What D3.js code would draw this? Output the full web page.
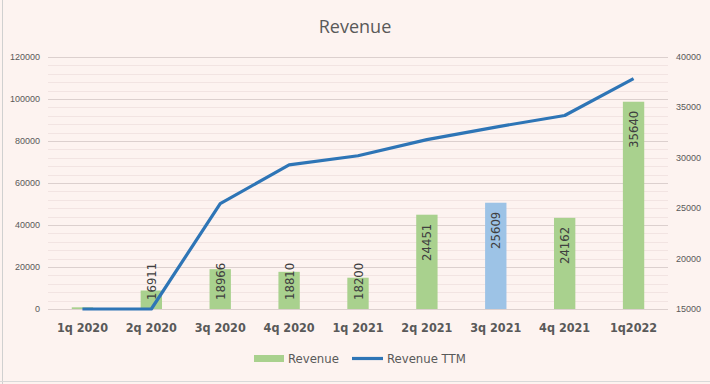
<!DOCTYPE html>
<html>
<head>
<meta charset="utf-8">
<script src="https://cdn.jsdelivr.net/npm/d3@7"></script>
<style>
  body { margin: 0; background: #fdf3f0; }
  svg { display: block; }
  .tick-label { font-family: "Liberation Sans", Arial, sans-serif; font-size: 9px; fill: #595959; }
  .cat-label { font-family: "DejaVu Sans Condensed", "Liberation Sans Narrow", sans-serif; font-size: 12.5px; font-weight: bold; fill: #595959; }
  .bar-label { font-family: "DejaVu Sans Condensed", "Liberation Sans Narrow", sans-serif; font-size: 13px; fill: #404040; }
  .legend-label { font-family: "DejaVu Sans Condensed", "Liberation Sans Narrow", sans-serif; font-size: 13px; fill: #595959; }
</style>
</head>
<body>
<svg id="chart" width="710" height="384"></svg>
<script>
const categories = ["1q 2020", "2q 2020", "3q 2020", "4q 2020", "1q 2021", "2q 2021", "3q 2021", "4q 2021", "1q2022"];
const barValues = [800, 8800, 18966, 17700, 14900, 44900, 50600, 43400, 98700];
const barLabels = ["", "16911", "18966", "18810", "18200", "24451", "25609", "24162", "35640"];
const ttmValues = [15000, 15000, 25450, 29300, 30200, 31800, 33050, 34200, 37850];
const leftTicks = [0, 20000, 40000, 60000, 80000, 100000, 120000];
const rightTicks = [15000, 20000, 25000, 30000, 35000, 40000];
const highlighted = "3q 2021";

const svg = d3.select("#chart");
const width = 710, height = 384;
const plot = { left: 48, right: 668, top: 57, bottom: 309 };

// frame bits like the sheet around the chart
svg.append("rect").attr("x", 0).attr("y", 0).attr("width", width).attr("height", height).attr("fill", "#fdf3f0");
svg.append("line").attr("x1", 2.5).attr("x2", 2.5).attr("y1", 0).attr("y2", height).attr("stroke", "#d0d0d0");
svg.append("line").attr("x1", 0).attr("x2", width).attr("y1", 381.5).attr("y2", 381.5).attr("stroke", "#d9d9d9");

const x = d3.scaleBand().domain(categories).range([plot.left, plot.right]).paddingInner(0.69).paddingOuter(0.345);
const yLeft = d3.scaleLinear().domain([0, 120000]).range([plot.bottom, plot.top]);
const yRight = d3.scaleLinear().domain([15000, 40000]).range([plot.bottom, plot.top]);

// minor gridlines
const minor = d3.range(0, 120001, 4000).filter(v => v % 20000 !== 0);
svg.append("g").selectAll("line").data(minor).enter().append("line")
  .attr("x1", plot.left).attr("x2", plot.right)
  .attr("y1", d => Math.round(yLeft(d)) + 0.5).attr("y2", d => Math.round(yLeft(d)) + 0.5)
  .attr("stroke", "#f2e4e2").attr("stroke-width", 1);

// major gridlines
svg.append("g").selectAll("line").data(leftTicks).enter().append("line")
  .attr("x1", plot.left).attr("x2", plot.right)
  .attr("y1", d => Math.round(yLeft(d)) + 0.5).attr("y2", d => Math.round(yLeft(d)) + 0.5)
  .attr("stroke", "#dcd0ce").attr("stroke-width", 1);

// left axis labels
svg.append("g").selectAll("text").data(leftTicks).enter().append("text")
  .attr("class", "tick-label")
  .attr("x", 40).attr("y", d => yLeft(d) + 3)
  .attr("text-anchor", "end")
  .text(d => d);

// right axis labels
svg.append("g").selectAll("text").data(rightTicks).enter().append("text")
  .attr("class", "tick-label")
  .attr("x", 676).attr("y", d => yRight(d) + 3)
  .attr("text-anchor", "start")
  .text(d => d);

// bars
svg.append("g").selectAll("rect").data(categories).enter().append("rect")
  .attr("x", d => x(d))
  .attr("y", (d, i) => yLeft(barValues[i]))
  .attr("width", x.bandwidth())
  .attr("height", (d, i) => yLeft(0) - yLeft(barValues[i]))
  .attr("fill", d => d === highlighted ? "#9dc3e6" : "#a9d18e");

// bar labels, rotated, inside end
const labels = svg.append("g").selectAll("text").data(categories).enter().append("text")
  .attr("class", "bar-label")
  .attr("text-anchor", "end")
  .text((d, i) => barLabels[i]);
labels.each(function (d, i) {
  const len = this.getComputedTextLength();
  const top = yLeft(barValues[i]);
  const yEnd = Math.min(top + 9, 300 - len);
  const cx = x(d) + x.bandwidth() / 2 + 4.5;
  d3.select(this).attr("transform", `translate(${cx},${yEnd}) rotate(-90)`);
});

// TTM line
const line = d3.line()
  .x((d, i) => x(categories[i]) + x.bandwidth() / 2)
  .y(d => yRight(d));
svg.append("path").datum(ttmValues)
  .attr("d", line)
  .attr("fill", "none")
  .attr("stroke", "#2e75b6")
  .attr("stroke-width", 3.2)
  .attr("stroke-linejoin", "round");

// category labels
svg.append("g").selectAll("text").data(categories).enter().append("text")
  .attr("class", "cat-label")
  .attr("x", d => x(d) + x.bandwidth() / 2)
  .attr("y", 332)
  .attr("text-anchor", "middle")
  .text(d => d);

// title
svg.append("text")
  .attr("x", 355).attr("y", 33)
  .attr("text-anchor", "middle")
  .attr("font-family", "'Open Sans', 'Liberation Sans', sans-serif")
  .attr("font-size", 18)
  .attr("fill", "#595959")
  .text("Revenue");

// legend
const legend = svg.append("g");
legend.append("rect").attr("x", 254).attr("y", 355).attr("width", 30).attr("height", 7).attr("fill", "#a9d18e");
legend.append("text").attr("class", "legend-label").attr("x", 288).attr("y", 363).text("Revenue");
legend.append("line").attr("x1", 352).attr("x2", 383).attr("y1", 358.5).attr("y2", 358.5)
  .attr("stroke", "#2e75b6").attr("stroke-width", 3.2);
legend.append("text").attr("class", "legend-label").attr("x", 387).attr("y", 363).text("Revenue TTM");
</script>
</body>
</html>
